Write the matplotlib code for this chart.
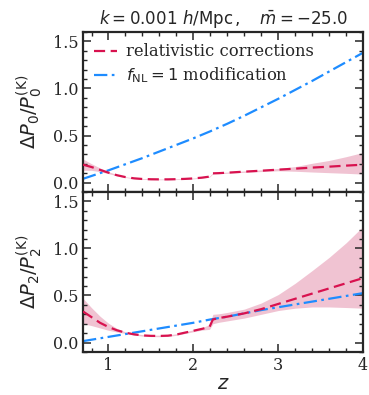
import numpy as np
import matplotlib
matplotlib.use('Agg')
import matplotlib.pyplot as plt
from matplotlib.ticker import MultipleLocator

# redshift grid for the relativistic corrections
z_rel = [0.7, 0.8, 0.9, 1.0, 1.1, 1.2, 1.3, 1.4, 1.5, 1.6, 1.7, 1.8, 1.9, 2.0, 2.1,
         2.19, 2.23, 2.3, 2.4, 2.6, 2.8, 3.0, 3.2, 3.4, 3.6, 3.8, 4.0]

# monopole: relativistic corrections (median, lower, upper)
rel0 = [0.19, 0.165, 0.135, 0.105, 0.078, 0.058, 0.045, 0.038, 0.035, 0.034, 0.034, 0.036, 0.039, 0.044, 0.052,
        0.063, 0.098, 0.100, 0.105, 0.116, 0.126, 0.137, 0.148, 0.159, 0.169, 0.18, 0.19]
rel0_lo = [0.13, 0.13, 0.115, 0.095, 0.072, 0.054, 0.041, 0.034, 0.031, 0.030, 0.030, 0.032, 0.035, 0.040, 0.048,
           0.058, 0.093, 0.095, 0.099, 0.109, 0.117, 0.125, 0.12, 0.112, 0.105, 0.098, 0.09]
rel0_hi = [0.25, 0.20, 0.155, 0.115, 0.085, 0.062, 0.049, 0.042, 0.039, 0.038, 0.038, 0.040, 0.043, 0.048, 0.056,
           0.067, 0.104, 0.106, 0.111, 0.123, 0.135, 0.15, 0.17, 0.205, 0.235, 0.275, 0.32]

# quadrupole: relativistic corrections (median, lower, upper)
rel2 = [0.33, 0.27, 0.21, 0.165, 0.13, 0.105, 0.087, 0.076, 0.071, 0.070, 0.073, 0.085, 0.105, 0.125, 0.145,
        0.165, 0.245, 0.26, 0.275, 0.31, 0.355, 0.41, 0.465, 0.52, 0.575, 0.63, 0.685]
rel2_lo = [0.2, 0.18, 0.155, 0.13, 0.112, 0.097, 0.08, 0.068, 0.063, 0.062, 0.065, 0.077, 0.096, 0.115, 0.132,
           0.14, 0.20, 0.215, 0.23, 0.26, 0.3, 0.34, 0.365, 0.378, 0.378, 0.372, 0.365]
rel2_hi = [0.47, 0.37, 0.28, 0.205, 0.15, 0.113, 0.094, 0.084, 0.079, 0.078, 0.081, 0.093, 0.114, 0.135, 0.158,
           0.19, 0.30, 0.305, 0.32, 0.355, 0.42, 0.51, 0.63, 0.765, 0.905, 1.06, 1.235]

# f_NL = 1 modification
z_fnl = [0.7, 0.8, 0.9, 1.0, 1.2, 1.4, 1.6, 1.8, 2.0, 2.2, 2.4, 2.6, 2.8, 3.0, 3.2, 3.4, 3.6, 3.8, 4.0]
fnl0 = [0.04, 0.07, 0.10, 0.13, 0.195, 0.26, 0.33, 0.40, 0.47, 0.545, 0.625, 0.71, 0.80, 0.89, 0.985,
        1.08, 1.18, 1.28, 1.38]
fnl2 = [0.015, 0.03, 0.045, 0.06, 0.09, 0.12, 0.15, 0.18, 0.21, 0.245, 0.275, 0.31, 0.345, 0.375, 0.405,
        0.435, 0.465, 0.495, 0.525]

c_rel = '#d8124f'
c_band = '#e9a3bb'
c_fnl = '#1e8cff'
dark = '#262626'

plt.rcParams['font.family'] = 'DejaVu Serif'
plt.rcParams['mathtext.fontset'] = 'dejavusans'
plt.rcParams['text.color'] = dark
plt.rcParams['axes.labelcolor'] = dark
plt.rcParams['xtick.color'] = dark
plt.rcParams['ytick.color'] = dark

fig, (ax0, ax2) = plt.subplots(2, 1, sharex=True, figsize=(3.69, 3.95), dpi=100)
fig.subplots_adjust(left=0.225, right=0.984, top=0.919, bottom=0.109, hspace=0)

panels = [(ax0, rel0, rel0_lo, rel0_hi, fnl0, r'$\Delta P_0/P_0^{(\mathrm{K})}$'),
          (ax2, rel2, rel2_lo, rel2_hi, fnl2, r'$\Delta P_2/P_2^{(\mathrm{K})}$')]

for ax, rel, lo, hi, fnl, lab in panels:
    ax.fill_between(z_rel, lo, hi, color=c_band, alpha=0.65, lw=0, zorder=1)
    ax.plot(z_rel, rel, color=c_rel, ls=(0, (5, 2.5)), lw=1.6, zorder=3,
            label='relativistic corrections')
    ax.plot(z_fnl, fnl, color=c_fnl, ls=(0, (6, 2, 1.2, 2)), lw=1.6, zorder=2,
            label=r'$f_{\mathrm{NL}} = 1$ modification')
    ax.set_xlim(0.7, 4)
    ax.set_ylim(-0.1, 1.6)
    ax.set_ylabel(lab, fontsize=14, labelpad=6)
    ax.yaxis.set_major_locator(MultipleLocator(0.5))
    ax.yaxis.set_minor_locator(MultipleLocator(0.1))
    ax.xaxis.set_major_locator(MultipleLocator(1))
    ax.xaxis.set_minor_locator(MultipleLocator(0.2))
    ax.tick_params(which='both', direction='in', top=True, right=True, labelsize=11.5)
    ax.tick_params(which='major', length=5.5, width=1.1)
    ax.tick_params(which='minor', length=3, width=1.0)
    for s in ax.spines.values():
        s.set_linewidth(1.6)
        s.set_color(dark)

ax0.legend(loc='upper left', frameon=False, fontsize=11.8, handlelength=1.4,
           handletextpad=0.5, borderaxespad=0.3, labelspacing=0.3)
ax0.set_title(r'$k = 0.001\ h/\mathrm{Mpc}\,,\quad \bar{m} = -25.0$', fontsize=12)
ax2.set_xlabel(r'$z$', fontsize=14, labelpad=1)

fig.savefig('out.png', dpi=100)
